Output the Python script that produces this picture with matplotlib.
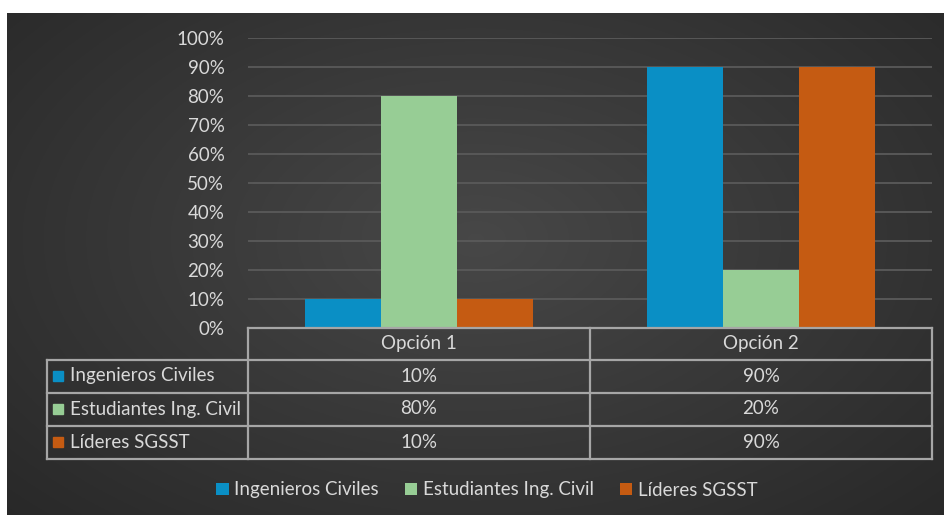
import numpy as np
import matplotlib
matplotlib.use("Agg")
import matplotlib.pyplot as plt
from matplotlib.lines import Line2D
from matplotlib.patches import Rectangle

categories = ["Opción 1", "Opción 2"]
series_names = ["Ingenieros Civiles", "Estudiantes Ing. Civil", "Líderes SGSST"]
ingenieros = [0.10, 0.90]
estudiantes = [0.80, 0.20]
lideres = [0.10, 0.90]
series_values = [ingenieros, estudiantes, lideres]
colors = ["#0A8FC5", "#97CD95", "#C55B12"]
yticks = [0, 0.1, 0.2, 0.3, 0.4, 0.5, 0.6, 0.7, 0.8, 0.9, 1.0]

plt.rcParams['font.family'] = ['Lato', 'DejaVu Sans']
TXT = "#D9D9D9"
LINE = "#A6A6A6"
FS = 13.5

W, H = 945, 515
fig = plt.figure(figsize=(W / 100, H / 100), dpi=100)
fig.patch.set_facecolor("white")

def fx(px):
    return px / W

def fy(py):
    return 1 - py / H

# background with radial gradient
bg = fig.add_axes([fx(7), 0, 1 - fx(7), fy(13)])
bg.set_axis_off()
yy, xx = np.mgrid[0:1:300j, 0:1:600j]
r = np.sqrt(((xx - 0.5) / 0.75) ** 2 + ((yy - 0.45) / 0.85) ** 2)
g = np.clip(0.28 - 0.13 * r, 0.15, 0.28)
img = np.dstack([g, g, g])
bg.imshow(img, aspect="auto", extent=[0, 1, 0, 1], origin="upper")
bg.set_xlim(0, 1)
bg.set_ylim(0, 1)

# main plot
left, right, top, bottom = 248, 932, 38, 328
ax = fig.add_axes([fx(left), fy(bottom), fx(right - left), fy(top) - fy(bottom)])
ax.patch.set_alpha(0)
x = np.arange(len(categories))
bw = 1 / 4.5
for i, (vals, c, name) in enumerate(zip(series_values, colors, series_names)):
    ax.bar(x + (i - 1) * bw, vals, width=bw, color=c, label=name, zorder=3)
ax.set_xlim(-0.5, len(categories) - 0.5)
ax.set_ylim(0, 1)
ax.set_yticks(yticks)
ax.set_yticklabels([f"{int(round(t * 100))}%" for t in yticks], color=TXT, fontsize=FS)
ax.set_xticks([])
ax.tick_params(axis="y", length=0, pad=17)
ax.grid(axis="y", color="#5A5A5A", linewidth=1.3, zorder=0)
for s in ax.spines.values():
    s.set_visible(False)

# data table
tl = 47
rows_y = [328, 359.5, 392.5, 425.5, 458.5]
lw = 1.6
def hline(y, x0, x1):
    fig.add_artist(Line2D([fx(x0), fx(x1)], [fy(y), fy(y)], color=LINE, lw=lw))
def vline(x0, y0, y1):
    fig.add_artist(Line2D([fx(x0), fx(x0)], [fy(y0), fy(y1)], color=LINE, lw=lw))

hline(rows_y[0], left, right)
for y in rows_y[1:]:
    hline(y, tl, right)
vline(tl, rows_y[1], rows_y[-1])
colw = (right - left) / len(categories)
for j in range(len(categories) + 1):
    vline(left + j * colw, rows_y[0], rows_y[-1])

for j, cat in enumerate(categories):
    fig.text(fx(left + (j + 0.5) * colw), fy((rows_y[0] + rows_y[1]) / 2), cat,
             ha="center", va="center", color=TXT, fontsize=FS)
for i, (name, vals, c) in enumerate(zip(series_names, series_values, colors)):
    yc = (rows_y[i + 1] + rows_y[i + 2]) / 2
    fig.add_artist(Rectangle((fx(53), fy(yc + 5)), fx(10), fy(yc - 5) - fy(yc + 5), color=c))
    fig.text(fx(70), fy(yc), name, ha="left", va="center", color=TXT, fontsize=FS)
    for j, v in enumerate(vals):
        fig.text(fx(left + (j + 0.5) * colw), fy(yc), f"{int(round(v * 100))}%",
                 ha="center", va="center", color=TXT, fontsize=FS)

# legend
leg = fig.legend(loc="center", bbox_to_anchor=(fx(487), fy(490)), ncol=3, frameon=False,
                 fontsize=FS, labelcolor=TXT, handlelength=0.65, handleheight=0.65,
                 handletextpad=0.3, columnspacing=1.4)

fig.savefig("out.png", dpi=100, facecolor=fig.get_facecolor())
